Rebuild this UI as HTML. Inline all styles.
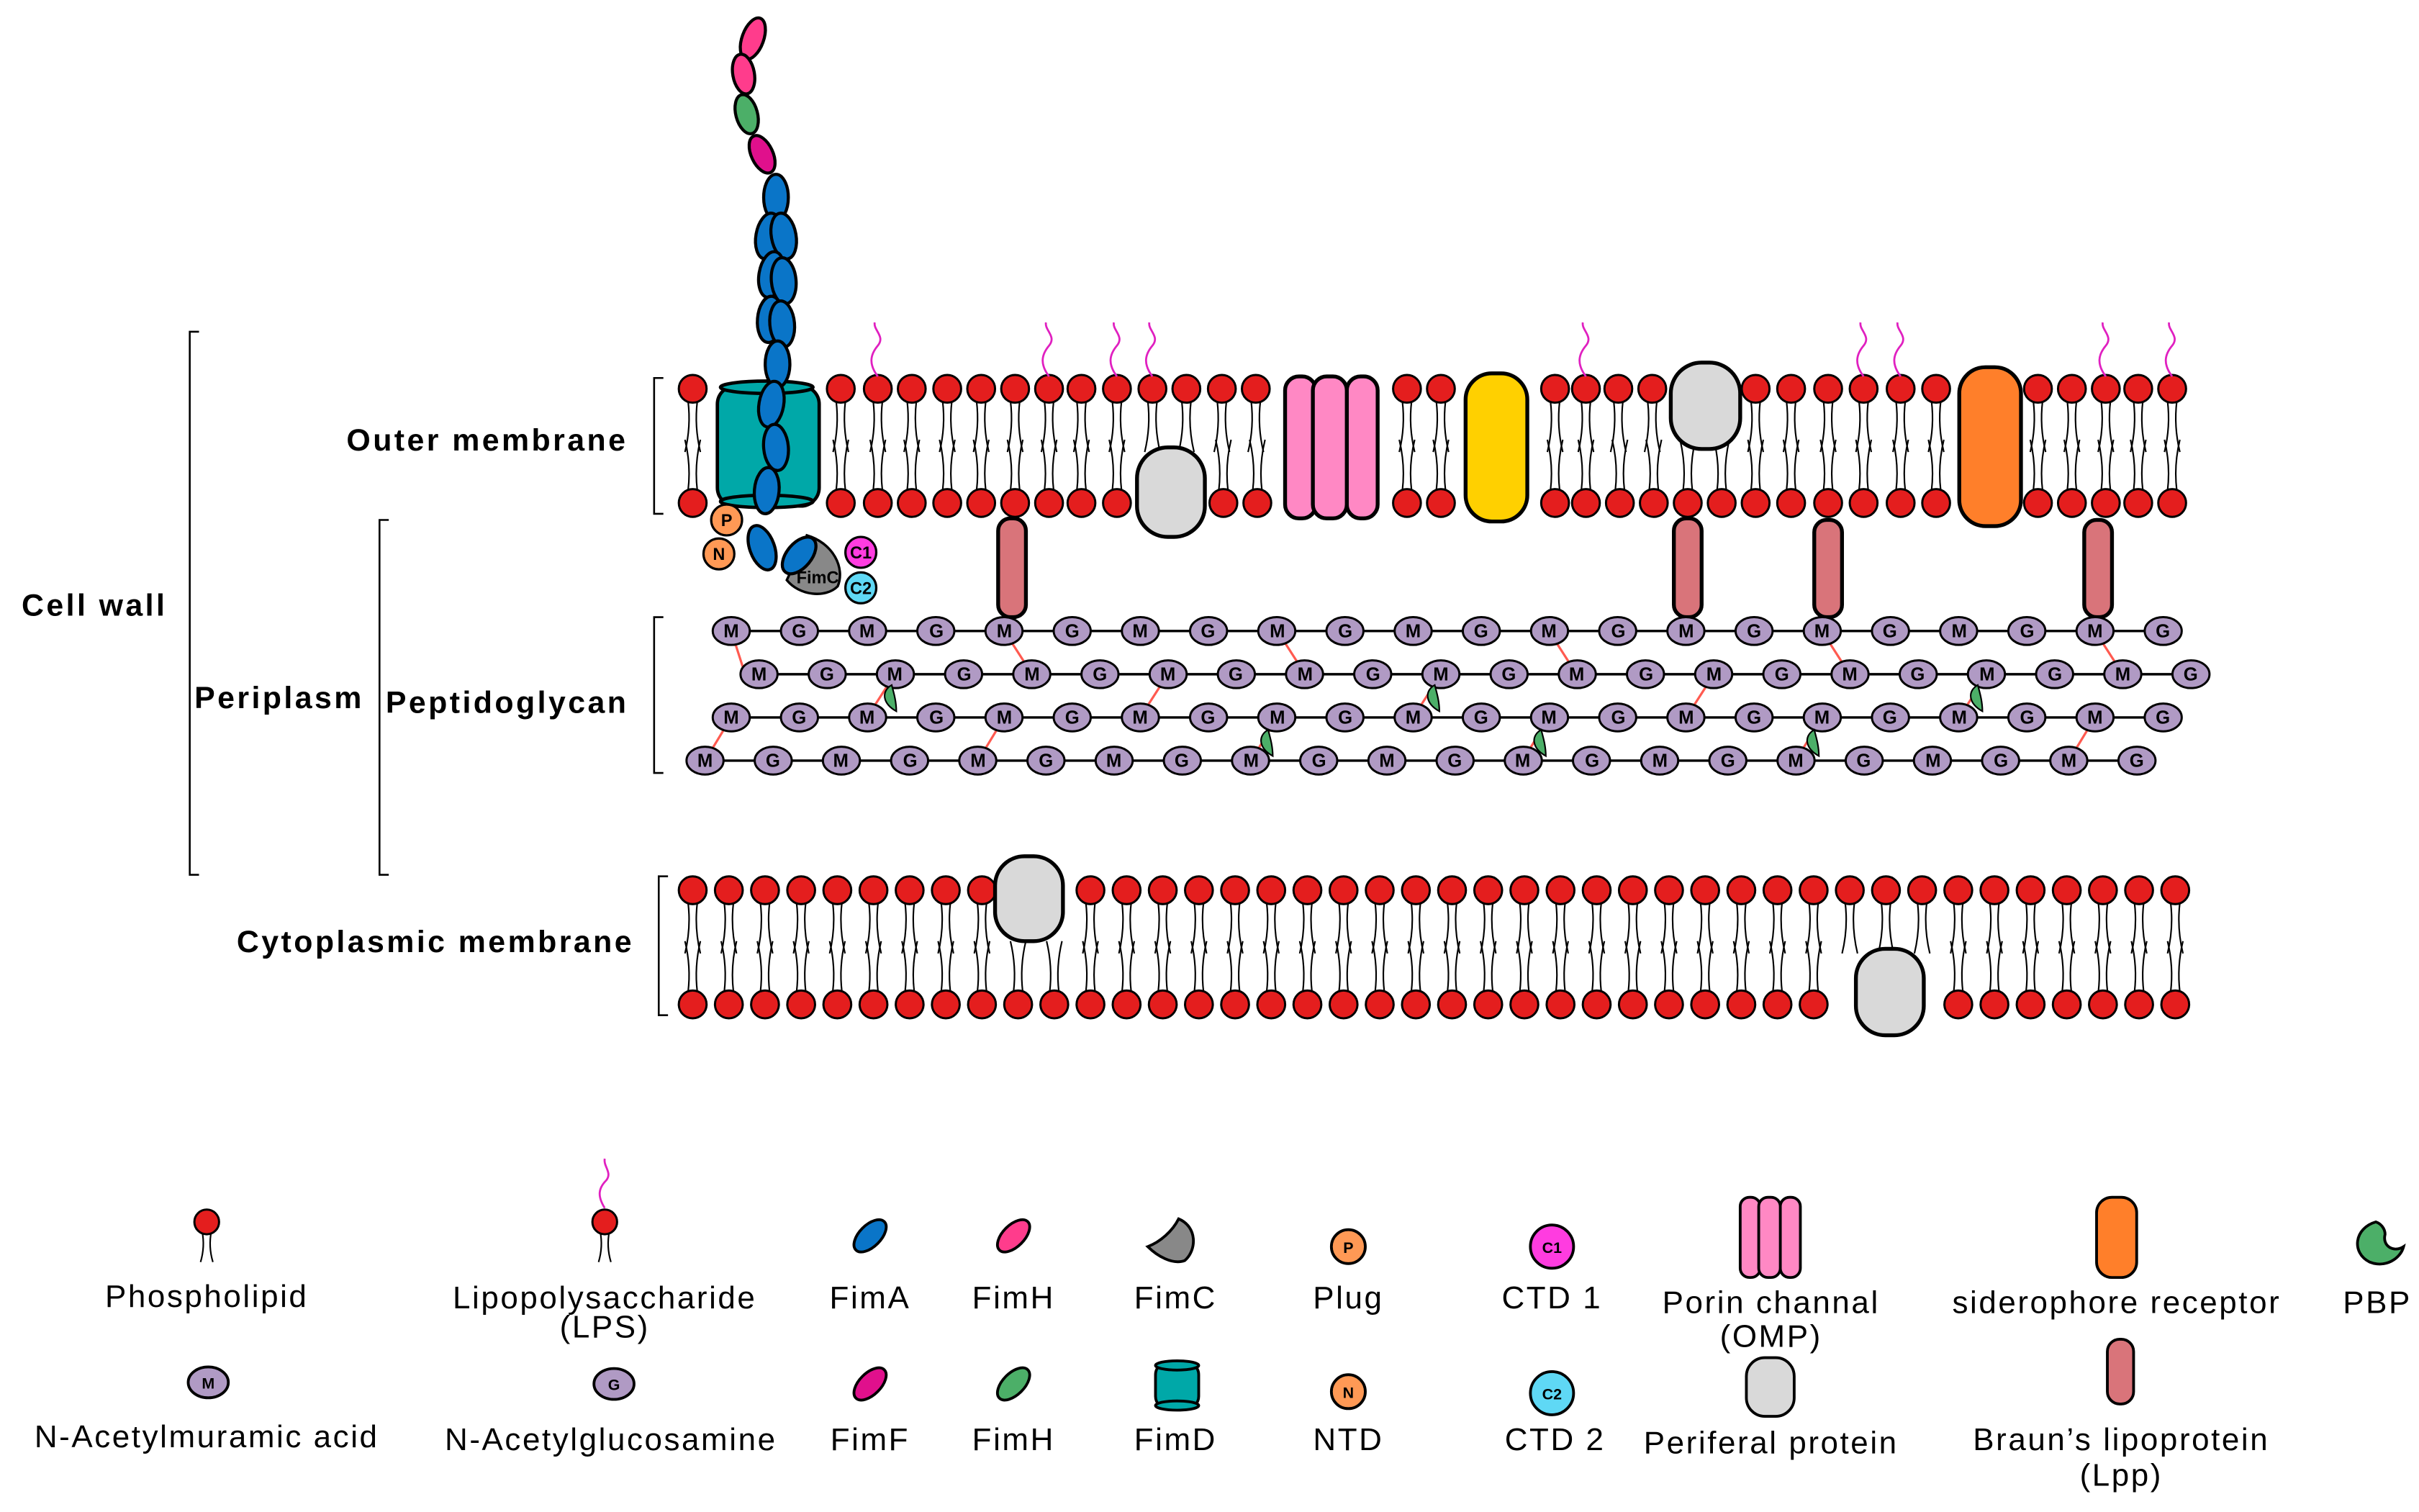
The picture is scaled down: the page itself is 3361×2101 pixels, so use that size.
<!DOCTYPE html>
<html><head><meta charset="utf-8"><style>
html,body{margin:0;padding:0;background:#fff;width:3361px;height:2101px;overflow:hidden}
svg{display:block}
text{font-family:"Liberation Sans",sans-serif}
.lbl{font-weight:bold;font-size:20px;letter-spacing:1.6px}
.lg{font-size:20.5px;letter-spacing:1.2px}
.pg{font-weight:bold;font-size:12px;text-anchor:middle}
</style></head><body>
<svg id="s" width="3361" height="2101" viewBox="0 0 1568 980" preserveAspectRatio="none" xmlns="http://www.w3.org/2000/svg">
<g id="lip"></g>
<g fill="none" stroke="#000" stroke-width="1.2">
<path d="M129 215 H123 V567 H129"/>
<path d="M252 337 H246 V567 H252"/>
<path d="M430 245 H424 V333 H430"/>
<path d="M430 400 H424 V501 H430"/>
<path d="M433 568 H427 V658 H433"/>
</g>
<text class="lbl" x="14" y="399">Cell wall</text>
<text class="lbl" x="126" y="459">Periplasm</text>
<text class="lbl" x="250" y="462">Peptidoglycan</text>
<text class="lbl" x="407" y="292" text-anchor="end">Outer membrane</text>
<text class="lbl" x="411" y="617" text-anchor="end">Cytoplasmic membrane</text>

<g stroke="#000" stroke-width="2.5">
<rect x="737" y="290" width="44" height="58" rx="20" fill="#d9d9d9"/>
<rect x="1083" y="235" width="45" height="56" rx="20" fill="#d9d9d9"/>
<rect x="950" y="242" width="40" height="96" rx="17" fill="#ffd000"/>
<rect x="1270" y="238" width="40" height="103" rx="17" fill="#ff7f2a"/>
<rect x="833" y="244" width="20" height="92" rx="9" fill="#ff88c4"/>
<rect x="873" y="244" width="20" height="92" rx="9" fill="#ff88c4"/>
<rect x="851" y="244" width="22" height="92" rx="9" fill="#ff88c4"/>
<rect x="645" y="555" width="44" height="55" rx="19" fill="#d9d9d9"/>
<rect x="1203" y="615" width="44" height="56" rx="19" fill="#d9d9d9"/>
</g>
<g stroke="#000" stroke-width="2.5" fill="#d9747a">
<rect x="647" y="336" width="18" height="64" rx="8"/>
<rect x="1085" y="336" width="18" height="64" rx="8"/>
<rect x="1176" y="337" width="18" height="63" rx="8"/>
<rect x="1351" y="337" width="18" height="63" rx="8"/>
</g>
<g stroke="#000" stroke-width="2.2" fill="#00a8a8">
<rect x="465" y="250" width="66" height="78" rx="12"/>
<ellipse cx="497" cy="251" rx="30" ry="4"/>
<ellipse cx="497" cy="325" rx="30" ry="4"/>
</g>
<g id="fim" stroke="#000" stroke-width="2"></g>
<g stroke="#000" stroke-width="1.5">
<circle cx="471" cy="337" r="10" fill="#ff9955"/>
<circle cx="466" cy="359" r="10" fill="#ff9955"/>
<circle cx="558" cy="358" r="10" fill="#ff3ce0"/>
<circle cx="558" cy="381" r="10" fill="#5fd8f5"/>
</g>
<g font-weight="bold" font-size="11" text-anchor="middle">
<text x="471" y="341">P</text><text x="466" y="363">N</text>
<text x="558" y="362">C1</text><text x="558" y="385">C2</text>
<text x="530" y="378">FimC</text>
</g>

<g id="pgl"></g>
<g id="pgc"></g>
<text class="pg" y="413" x="474 518 562 607 651 695 739 783 828 872 916 960 1004 1049 1093 1137 1181 1225 1270 1314 1358 1402">MGMGMGMGMGMGMGMGMGMGMG</text>
<text class="pg" y="441" x="492 536 580 625 669 713 757 801 846 890 934 978 1022 1067 1111 1155 1199 1243 1288 1332 1376 1420">MGMGMGMGMGMGMGMGMGMGMG</text>
<text class="pg" y="469" x="474 518 562 607 651 695 739 783 828 872 916 960 1004 1049 1093 1137 1181 1225 1270 1314 1358 1402">MGMGMGMGMGMGMGMGMGMGMG</text>
<text class="pg" y="497" x="457 501 545 590 634 678 722 766 811 855 899 943 987 1032 1076 1120 1164 1208 1253 1297 1341 1385">MGMGMGMGMGMGMGMGMGMGMG</text>

<g id="leg" stroke="#000" stroke-width="1.8"></g>
<g>
<text class="lg" x="134" y="847" text-anchor="middle">Phospholipid</text>
<text class="lg" x="392" y="848" text-anchor="middle">Lipopolysaccharide</text>
<text class="lg" x="392" y="867" text-anchor="middle">(LPS)</text>
<text class="lg" x="564" y="848" text-anchor="middle">FimA</text>
<text class="lg" x="657" y="848" text-anchor="middle">FimH</text>
<text class="lg" x="762" y="848" text-anchor="middle">FimC</text>
<text class="lg" x="874" y="848" text-anchor="middle">Plug</text>
<text class="lg" x="1006" y="848" text-anchor="middle">CTD 1</text>
<text class="lg" x="1148" y="851" text-anchor="middle">Porin channal</text>
<text class="lg" x="1148" y="873" text-anchor="middle">(OMP)</text>
<text class="lg" x="1372" y="851" text-anchor="middle">siderophore receptor</text>
<text class="lg" x="1541" y="851" text-anchor="middle">PBP</text>
<text class="lg" x="134" y="938" text-anchor="middle">N-Acetylmuramic acid</text>
<text class="lg" x="396" y="940" text-anchor="middle">N-Acetylglucosamine</text>
<text class="lg" x="564" y="940" text-anchor="middle">FimF</text>
<text class="lg" x="657" y="940" text-anchor="middle">FimH</text>
<text class="lg" x="762" y="940" text-anchor="middle">FimD</text>
<text class="lg" x="874" y="940" text-anchor="middle">NTD</text>
<text class="lg" x="1008" y="940" text-anchor="middle">CTD 2</text>
<text class="lg" x="1148" y="942" text-anchor="middle">Periferal protein</text>
<text class="lg" x="1375" y="940" text-anchor="middle">Braun’s lipoprotein</text>
<text class="lg" x="1375" y="963" text-anchor="middle">(Lpp)</text>
</g>
<g id="legt" font-weight="bold" font-size="10" text-anchor="middle">
<text x="874" y="812">P</text><text x="874" y="906">N</text>
<text x="1006" y="812">C1</text><text x="1006" y="907">C2</text>
<text x="135" y="900">M</text><text x="398" y="901">G</text>
</g>
</svg>
<script>
const NS="http://www.w3.org/2000/svg";
function el(p,t,a){const e=document.createElementNS(NS,t);for(const k in a)e.setAttribute(k,a[k]);p.appendChild(e);return e;}
const lip=document.getElementById('lip');
function head(x,y){el(lip,'circle',{cx:x,cy:y,r:9,fill:'#e41e1e',stroke:'#000','stroke-width':1.4});}
function tail(x,y,dir){
  const y2=y+dir*33;
  for(const s of [-1,1]){
    el(lip,'path',{d:`M${x+s*3} ${y} Q${x+s*1} ${(y+y2)/2} ${x+s*5} ${y2}`,fill:'none',stroke:'#000','stroke-width':1});
  }
}
const omTop=[449,545,569,591,614,636,658,680,701,724,747,769,792,814,912,934,1008,1028,1049,1071,1138,1161,1185,1208,1232,1255,1321,1343,1365,1386,1408];
const omBot=[449,545,569,591,614,636,658,680,701,724,793,815,912,934,1008,1028,1050,1072,1094,1116,1138,1161,1185,1208,1232,1255,1321,1343,1365,1386,1408];
omTop.forEach(x=>{tail(x,260,1);head(x,252);});
omBot.forEach(x=>{tail(x,318,-1);head(x,326);});
[569,680,724,747,1028,1208,1232,1365,1408].forEach(x=>{
 el(lip,'path',{d:`M${x} 244 C${x-6} 236 ${x-5} 230 ${x} 224 C${x+5} 218 ${x-3} 214 ${x-2} 209`,fill:'none',stroke:'#e020c0','stroke-width':1.3});
});
for(let i=0;i<42;i++){const x=449+i*(1410-449)/41;
 if(!(x>638&&x<696)){tail(x,585,1);head(x,577);}
 if(!(x>1196&&x<1254)){tail(x,643,-1);head(x,651);}
}
const pgl=document.getElementById('pgl'),pgc=document.getElementById('pgc');
const rows=[[474,409],[492,437],[474,465],[457,493]];
const xl=[[474,1402],[492,1420],[474,1402],[457,1385]];
const cl=[[474,409,483,437],[651,409,669,437],[828,409,846,437],[1004,409,1022,437],[1181,409,1199,437],[1358,409,1376,437],
[580,437,562,465],[757,437,739,465],[934,437,916,465],[1111,437,1093,465],[1288,437,1270,465],
[474,465,457,493],[651,465,634,493],[828,465,811,493],[1004,465,987,493],[1181,465,1164,493],[1358,465,1341,493]];
cl.forEach(c=>el(pgl,'line',{x1:c[0],y1:c[1],x2:c[2],y2:c[3],stroke:'#ff5a50','stroke-width':1.5}));
rows.forEach((r,i)=>{el(pgl,'line',{x1:r[0],y1:r[1],x2:xl[i][1],y2:r[1],stroke:'#000','stroke-width':1.6});
 for(let k=0;k<22;k++)el(pgc,'ellipse',{cx:r[0]+k*44.2,cy:r[1],rx:12,ry:9,fill:'#b09ac4',stroke:'#000','stroke-width':1.4});});
function pbp(p,x,y){el(p,'path',{d:`M${x} ${y-8} C${x-7} ${y-4} ${x-6} ${y+4} ${x+3} ${y+9} C${x+3} ${y+2} ${x+1} ${y-4} ${x} ${y-8}Z`,fill:'#4caf68',stroke:'#000','stroke-width':1});}
[[578,452],[930,452],[1282,452],[822,481],[999,481],[1176,481]].forEach(p=>pbp(pgc,p[0],p[1]));
const fim=document.getElementById('fim');
function ell(x,y,rx,ry,rot,f){el(fim,'ellipse',{cx:x,cy:y,rx:rx,ry:ry,fill:f,transform:`rotate(${rot} ${x} ${y})`});}
ell(488,25,7,14,20,'#ff3c8c');ell(482,48,7,13,-10,'#ff3c8c');ell(484,74,7,13,-15,'#4caf68');ell(494,100,7,13,-25,'#e0108c');
const bl='#0a75c8';
[[503,128,0],[498,153,10],[508,153,-10],[500,178,10],[508,182,-5],[499,207,5],[507,210,-5],[504,236,0],[500,262,10],[503,290,-5],[497,318,5]].forEach(b=>ell(b[0],b[1],8,15,b[2],bl));
el(fim,'path',{d:'M523 347 C540 352 548 368 543 380 C535 388 518 386 510 376 C515 365 520 357 523 347Z',fill:'#888','stroke-width':1.6});
ell(494,355,8,15,-20,bl);ell(518,360,8,14,40,bl);
const lg=document.getElementById('leg');
function ltail(x,y){for(const s of[-1,1])el(lg,'path',{d:`M${x+s*3} ${y} Q${x+s*1} ${y+10} ${x+s*4} ${y+20}`,fill:'none',stroke:'#000','stroke-width':1});}
ltail(134,798);el(lg,'circle',{cx:134,cy:792,r:8,fill:'#e41e1e','stroke-width':1.4});
ltail(392,798);el(lg,'circle',{cx:392,cy:792,r:8,fill:'#e41e1e','stroke-width':1.4});
el(lg,'path',{d:'M392 783 C387 775 388 770 393 765 C397 760 391 756 392 751',fill:'none',stroke:'#e020c0','stroke-width':1.3});
function le(x,y,f,rot){el(lg,'ellipse',{cx:x,cy:y,rx:7,ry:13,fill:f,transform:`rotate(${rot} ${x} ${y})`});}
le(564,801,bl,45);le(657,801,'#ff3c8c',45);le(564,897,'#e0108c',45);le(657,897,'#4caf68',45);
el(lg,'path',{d:'M764 790 C776 795 776 810 768 817 C760 820 750 814 744 808 C752 805 760 798 764 790Z',fill:'#888'});
el(lg,'circle',{cx:874,cy:808,r:11,fill:'#ff9955'});el(lg,'circle',{cx:874,cy:902,r:11,fill:'#ff9955'});
el(lg,'circle',{cx:1006,cy:808,r:14,fill:'#ff3ce0'});el(lg,'circle',{cx:1006,cy:903,r:14,fill:'#5fd8f5'});
el(lg,'rect',{x:1128,y:776,width:13,height:52,rx:6,fill:'#ff88c4'});el(lg,'rect',{x:1154,y:776,width:13,height:52,rx:6,fill:'#ff88c4'});el(lg,'rect',{x:1140,y:776,width:14,height:52,rx:6,fill:'#ff88c4'});
el(lg,'rect',{x:1359,y:776,width:26,height:52,rx:10,fill:'#ff7f2a'});
el(lg,'rect',{x:1132,y:880,width:31,height:38,rx:12,fill:'#d9d9d9'});
el(lg,'rect',{x:1366,y:868,width:17,height:42,rx:8,fill:'#d9747a'});
el(lg,'rect',{x:749,y:883,width:28,height:30,rx:8,fill:'#00a8a8'});
el(lg,'ellipse',{cx:763,cy:885,rx:14,ry:3,fill:'#00a8a8'});el(lg,'ellipse',{cx:763,cy:911,rx:14,ry:3,fill:'#00a8a8'});
el(lg,'path',{d:'M1540 792 C1526 796 1524 812 1536 818 C1546 822 1556 816 1558 808 C1552 812 1544 808 1546 800 C1546 796 1543 793 1540 792Z',fill:'#4caf68'});
el(lg,'ellipse',{cx:135,cy:896,rx:13,ry:10,fill:'#b09ac4'});el(lg,'ellipse',{cx:398,cy:897,rx:13,ry:10,fill:'#b09ac4'});
</script>
</body></html>
